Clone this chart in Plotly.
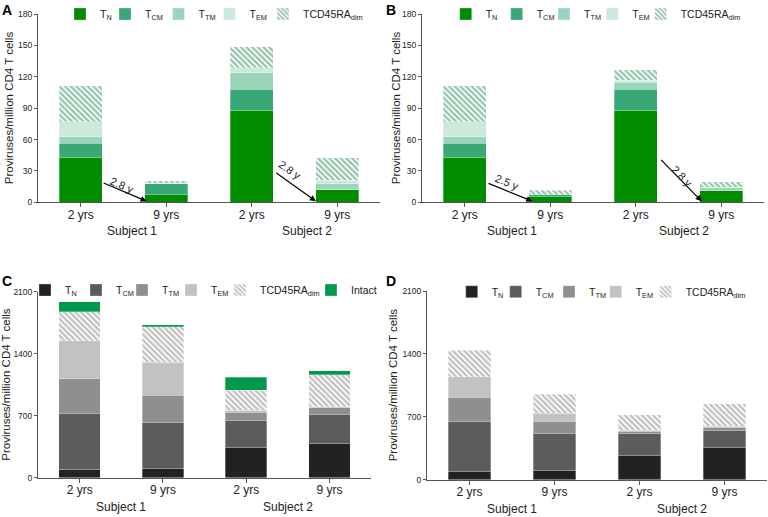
import plotly.graph_objects as go

# x categories
times = ["2 yrs", "9 yrs", "2 yrs", "9 yrs"]
subjects = ["Subject 1", "Subject 2"]
subsets = ["T<sub>N</sub>", "T<sub>CM</sub>", "T<sub>TM</sub>", "T<sub>EM</sub>", "TCD45RA<sub>dim</sub>"]

# Panel A: proviruses/million CD4 T cells
a_tn = [43, 7, 88, 12.7]
a_tcm = [13.5, 11, 20, 0]
a_ttm = [6, 0, 16, 4.8]
a_tem = [14.5, 0, 4.8, 3.8]
a_dim = [34.5, 2.5, 20, 21.5]

# Panel B
b_tn = [43, 5.5, 88, 11]
b_tcm = [13.5, 1.5, 20, 0]
b_ttm = [6, 0, 7, 3.3]
b_tem = [14.5, 0, 1.5, 0]
b_dim = [34.5, 4.5, 10, 5.3]

# Panel C
c_tn = [98, 102, 339, 388]
c_tcm = [629, 523, 312, 323]
c_ttm = [391, 305, 87, 79]
c_tem = [429, 376, 26, 12]
c_dim = [327, 399, 226, 358]
c_intact = [110, 22, 144, 45]

# Panel D
d_tn = [89, 97, 267, 353]
d_tcm = [564, 419, 242, 200]
d_ttm = [264, 137, 30, 33]
d_tem = [229, 86, 11, 8]
d_dim = [297, 211, 173, 252]

# decay half-life labels
a_arrows = ["2.8 y", "2.8 y"]
b_arrows = ["2.5 y", "2.8 y"]

W, H = 768, 517
FONT = "Liberation Sans, Arial, sans-serif"

greens = ["#008c00", "#3aa776", "#9ad5b9", "#cde9db"]
green_hatch = "#2a8557"
grays = ["#222222", "#5c5c5c", "#8f8f8f", "#c2c2c2"]
gray_hatch = "#808080"
intact_color = "#00994c"

panels = [
    dict(letter="A", ax="", series=[a_tn, a_tcm, a_ttm, a_tem, a_dim], names=subsets,
         colors=greens, hatch=green_hatch, ymax=180, dtick=30,
         xdom=(38, 380), ydom=(14, 202.3), leg_x=[80, 125, 178.5, 229.5, 283], leg_y=14,
         title_x=9, letter_pos=(0, 0), subj_x=[0.6, 2.65]),
    dict(letter="B", ax="2", series=[b_tn, b_tcm, b_ttm, b_tem, b_dim], names=subsets,
         colors=greens, hatch=green_hatch, ymax=180, dtick=30,
         xdom=(422, 764), ydom=(14, 202.3), leg_x=[465.7, 516.7, 564, 612.3, 660.7], leg_y=14,
         title_x=396, letter_pos=(384, 0), subj_x=[0.55, 2.56]),
    dict(letter="C", ax="3", series=[c_tn, c_tcm, c_ttm, c_tem, c_dim, c_intact],
         names=subsets + ["Intact"], colors=grays, hatch=gray_hatch, ymax=2100, dtick=700,
         xdom=(38, 371), ydom=(291.7, 477.7), leg_x=[45, 96, 142, 191, 240, 331], leg_y=290,
         title_x=6, letter_pos=(0, 271), subj_x=[0.5, 2.5]),
    dict(letter="D", ax="4", series=[d_tn, d_tcm, d_ttm, d_tem, d_dim], names=subsets,
         colors=grays, hatch=gray_hatch, ymax=2100, dtick=700,
         xdom=(427, 767), ydom=(291, 479.7), leg_x=[471.7, 515.7, 569, 615.7, 665.7], leg_y=291.7,
         title_x=393, letter_pos=(384, 271), subj_x=[0.5, 2.5]),
]

fig = go.Figure()
layout = dict(width=W, height=H, autosize=False,
              margin=dict(l=0, r=0, t=0, b=0, autoexpand=False), showlegend=True,
              paper_bgcolor="white", plot_bgcolor="white", barmode="stack", bargap=0.5,
              font=dict(family=FONT, color="#222"))
annotations = []
leg_n = 0

for p in panels:
    xa, ya = "x" + p["ax"], "y" + p["ax"]
    pos = list(range(len(times)))
    for i, (vals, name) in enumerate(zip(p["series"], p["names"])):
        leg_n += 1
        leg_id = "legend" if leg_n == 1 else f"legend{leg_n}"
        if name.startswith("TCD45RA"):
            marker = dict(color="white", pattern=dict(shape="\\", fgcolor=p["hatch"], bgcolor="white",
                                                       size=4, solidity=0.55))
        elif name == "Intact":
            marker = dict(color=intact_color)
        else:
            marker = dict(color=p["colors"][i])
        marker["line"] = dict(width=0.5, color="rgba(255,255,255,0.6)")
        fig.add_trace(go.Bar(x=pos, y=vals, name=name, marker=marker, xaxis=xa, yaxis=ya,
                             legend=leg_id, hoverinfo="skip"))
        layout[leg_id] = dict(x=(p["leg_x"][i] - 20) / W, xanchor="left",
                              y=1 - p["leg_y"] / H, yanchor="middle", orientation="h",
                              bgcolor="rgba(0,0,0,0)", font=dict(size=10.5, family=FONT, color="#222"))

    layout["xaxis" + p["ax"]] = dict(domain=[p["xdom"][0] / W, p["xdom"][1] / W], anchor=ya,
                                     range=[-0.5, 3.5], tickvals=pos, ticktext=times,
                                     ticks="outside", ticklen=4, tickcolor="#555",
                                     ticklabelstandoff=-3,
                                     showline=True, linecolor="#555", linewidth=1,
                                     showgrid=False, zeroline=False, tickfont=dict(size=12))
    layout["yaxis" + p["ax"]] = dict(domain=[1 - p["ydom"][1] / H, 1 - p["ydom"][0] / H], anchor=xa,
                                     range=[0, p["ymax"]], dtick=p["dtick"],
                                     ticks="outside", ticklen=3, tickcolor="#555",
                                     showline=True, linecolor="#555", linewidth=1,
                                     showgrid=False, zeroline=False, tickfont=dict(size=8.5))

    annotations.append(dict(text="<b>" + p["letter"] + "</b>", xref="paper", yref="paper",
                            x=p["letter_pos"][0] / W, y=1 - p["letter_pos"][1] / H,
                            xanchor="left", yanchor="top", showarrow=False,
                            font=dict(size=14, family=FONT, color="black")))
    annotations.append(dict(text="Proviruses/million CD4 T cells", textangle=-90,
                            xref="paper", yref="paper", x=p["title_x"] / W,
                            y=1 - (p["ydom"][0] + p["ydom"][1]) / 2 / H,
                            xanchor="center", yanchor="middle", showarrow=False,
                            font=dict(size=11.5, family=FONT, color="#222")))
    for sx, s in zip(p["subj_x"], subjects):
        annotations.append(dict(text=s, xref=xa, yref=ya + " domain", x=sx, y=0, yshift=-29,
                                xanchor="center", yanchor="middle", showarrow=False,
                                font=dict(size=12, family=FONT, color="#222")))

# arrows between time points (tail x, tail y, head x, head y, label x, label y, angle)
arrow_geo = {
    "": [(0.25, 19, 0.77, 1, 0.48, 16.6, 23), (2.27, 29, 2.75, 1, 2.45, 31, 35)],
    "2": [(0.26, 18.7, 0.79, 1, 0.49, 19.7, 22), (2.28, 42, 2.77, 1, 2.54, 25.2, 46)],
}
for ax, labels in (("", a_arrows), ("2", b_arrows)):
    for (tx, ty, hx, hy, lx, ly, ang), lab in zip(arrow_geo[ax], labels):
        annotations.append(dict(x=hx, y=hy, ax=tx, ay=ty, xref="x" + ax, yref="y" + ax,
                                axref="x" + ax, ayref="y" + ax, text="", showarrow=True,
                                arrowhead=2, arrowsize=1, arrowwidth=1.2, arrowcolor="black"))
        annotations.append(dict(x=lx, y=ly, xref="x" + ax, yref="y" + ax, text=lab,
                                textangle=ang, showarrow=False,
                                font=dict(size=11, family=FONT, color="#222")))

layout["annotations"] = annotations
fig.update_layout(**layout)
# drop the default page margin so the figure sits at the window corner
fig.write_html("out.html", config={"displayModeBar": False},
               post_script="document.body.style.margin='0';")
